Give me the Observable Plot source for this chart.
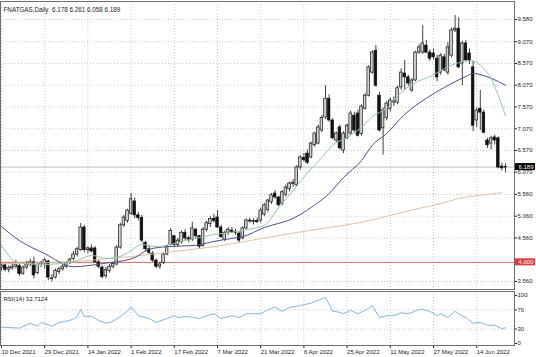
<!DOCTYPE html>
<html><head><meta charset="utf-8">
<script src="https://cdn.jsdelivr.net/npm/d3@7"></script>
<script src="https://cdn.jsdelivr.net/npm/@observablehq/plot@0.6"></script>
<style>
html,body{margin:0;padding:0;background:#fff}
#wrap{position:relative;width:536px;height:357px;overflow:hidden;background:#fff}
#wrap svg{position:absolute;left:0}
</style></head>
<body><div id="wrap"></div>
<script>
const symbol = "FNATGAS";
const period = "Daily";
const open  = [3.88,3.93,3.83,3.86,3.90,3.92,3.74,3.88,3.95,4.00,3.75,3.94,3.97,4.02,3.63,3.65,3.78,3.84,3.90,3.98,
 4.08,4.18,4.28,4.80,4.28,4.32,4.32,4.00,3.88,3.68,3.80,3.90,3.95,4.34,4.85,4.95,5.12,5.40,5.08,5.02,
 4.45,4.30,4.20,4.04,3.90,3.98,4.18,4.40,4.60,4.40,4.46,4.68,4.55,4.52,4.75,4.60,4.38,4.75,4.88,5.00,
 5.03,4.80,4.52,4.68,4.73,4.70,4.66,4.55,4.78,4.96,4.93,4.95,4.96,5.10,5.20,5.38,5.58,5.49,5.35,5.55,
 5.68,5.80,5.77,6.18,6.40,6.50,6.41,6.69,6.73,7.03,7.33,7.76,7.26,6.80,7.10,6.57,6.85,6.96,7.37,7.42,
 6.95,7.53,7.83,8.36,8.86,7.83,7.08,7.31,7.53,7.67,7.67,8.02,8.34,8.25,7.95,8.18,8.82,8.82,8.98,8.82,
 8.80,8.68,8.36,8.71,8.36,8.75,9.33,9.37,8.57,9.03,8.80,8.48,7.26,7.53,7.44,6.80,6.73,6.87,6.85,6.20,6.178];
const high  = [3.98,3.97,3.92,3.98,4.05,3.95,3.92,4.02,4.08,4.12,3.98,4.02,4.10,4.05,3.72,3.85,3.88,3.95,4.02,4.10,
 4.25,4.35,4.89,4.85,4.36,4.40,4.36,4.05,3.92,3.88,3.95,4.00,4.38,4.90,5.08,5.22,5.58,5.48,5.15,5.08,
 4.48,4.38,4.25,4.08,4.00,4.22,4.40,4.78,4.62,4.55,4.72,4.75,4.60,4.92,4.78,4.62,4.80,4.95,5.05,5.10,
 5.19,4.85,4.72,4.80,4.80,4.76,4.70,4.82,5.00,5.02,5.00,5.02,5.25,5.36,5.45,5.58,5.65,5.52,5.65,5.78,
 5.85,5.90,6.22,6.45,6.50,6.58,6.76,6.99,7.15,7.38,8.06,7.85,7.30,7.00,7.15,7.00,7.18,7.48,7.45,7.50,
 7.62,7.88,8.52,8.86,8.98,7.90,7.55,7.70,7.78,7.80,8.05,8.45,8.64,8.30,8.22,8.85,9.00,9.44,9.10,8.88,
 8.90,8.75,8.80,8.78,9.05,9.38,9.67,9.62,9.08,9.10,8.90,8.62,7.55,7.95,7.50,6.85,6.90,6.92,6.88,6.28,6.261];
const low   = [3.80,3.78,3.76,3.82,3.85,3.68,3.70,3.83,3.90,3.62,3.72,3.88,3.85,3.58,3.55,3.62,3.72,3.80,3.86,3.95,
 4.04,4.12,4.25,4.22,4.20,4.22,3.98,3.85,3.62,3.62,3.75,3.85,3.92,4.30,4.80,4.90,5.08,5.00,4.95,4.45,
 4.25,4.18,4.00,3.85,3.84,3.95,4.15,4.38,4.35,4.35,4.42,4.50,4.45,4.48,4.55,4.32,4.35,4.70,4.80,4.90,
 4.78,4.55,4.48,4.62,4.66,4.62,4.45,4.52,4.75,4.90,4.86,4.90,4.90,5.05,5.15,5.33,5.45,5.28,5.30,5.50,
 5.62,5.72,5.74,6.12,6.30,6.25,6.38,6.65,6.70,6.98,7.28,7.22,6.82,6.75,6.58,6.50,6.82,6.92,6.98,6.88,
 6.90,7.50,7.80,8.32,8.02,7.00,6.46,7.25,7.45,7.58,7.62,7.95,7.95,8.05,7.90,8.15,8.78,8.78,8.80,8.62,
 8.65,8.15,8.30,8.38,8.30,8.70,9.28,8.45,8.06,8.60,8.55,7.00,7.10,7.03,6.95,6.62,6.58,6.70,6.15,6.10,6.058];
const close = [3.93,3.83,3.87,3.90,3.95,3.73,3.88,3.95,4.00,3.70,3.94,3.97,4.05,3.65,3.62,3.80,3.84,3.90,3.98,4.06,
 4.18,4.30,4.80,4.28,4.32,4.25,4.00,3.90,3.66,3.82,3.90,3.96,4.34,4.85,5.03,5.19,5.45,5.08,5.02,4.50,
 4.30,4.22,4.04,3.90,3.95,4.18,4.36,4.72,4.40,4.50,4.68,4.55,4.52,4.78,4.60,4.36,4.75,4.90,5.00,4.95,
 4.80,4.58,4.68,4.75,4.70,4.68,4.50,4.78,4.96,4.94,4.95,4.92,5.19,5.31,5.42,5.54,5.49,5.31,5.61,5.72,
 5.81,5.83,6.18,6.41,6.35,6.29,6.73,6.96,7.10,7.32,7.76,7.26,6.85,6.96,6.62,6.96,7.14,7.42,7.03,6.91,
 7.58,7.83,8.48,8.82,8.06,7.03,7.49,7.65,7.72,7.70,8.00,8.36,8.25,8.11,8.18,8.82,8.94,9.03,8.82,8.68,
 8.71,8.25,8.75,8.41,8.94,9.33,9.37,8.48,9.03,8.64,8.62,7.14,7.49,7.44,6.98,6.69,6.85,6.80,6.18,6.16,6.189];

const dateTickIdx = [0,12,24,36,48,60,72,84,96,108,120,132];
const dateLabels = ["10 Dec 2021","29 Dec 2021","14 Jan 2022","1 Feb 2022","17 Feb 2022","7 Mar 2022",
 "21 Mar 2022","6 Apr 2022","25 Apr 2022","11 May 2022","27 May 2022","14 Jun 2022"];
const priceTicks = [9.58,9.07,8.57,8.07,7.57,7.07,6.57,6.07,5.56,5.06,4.56,3.56];
const levelPrice = 4.0;
const rsiTicks = [100,70,30,0];
const rsiGrid = [70,30];

const greenIdx = [0,2,4,11,16,21,25,29,32,36,39,43,47,51,55,59,64,68,73,77,81,85,89,92,96,100,103,107,111,115,119,123,127,130,132,134,136,138,140];
const greenVal = [4.39,4.16,4.00,3.95,3.97,4.04,4.16,4.09,4.11,4.27,4.41,4.36,4.41,4.50,4.57,4.64,4.69,4.75,4.85,5.26,5.65,6.06,6.41,6.69,6.87,7.10,7.35,7.54,7.90,8.13,8.27,8.45,8.59,8.64,8.59,8.45,8.23,7.83,7.37];
const blueIdx = [0,5,12,20,28,37,41,46,54,59,64,67,73,81,86,91,95,100,103,107,112,118,123,129,131,134,136,140];
const blueVal = [4.82,4.50,4.20,3.90,3.97,4.11,4.30,4.36,4.39,4.48,4.55,4.59,4.80,5.01,5.26,5.58,5.95,6.34,6.69,6.96,7.40,7.77,8.02,8.27,8.34,8.29,8.23,8.07];
const tanIdx = [0,21,30,39,50,59,69,80,91,100,108,116,122,127,133,139];
const tanVal = [3.97,4.02,4.09,4.16,4.27,4.36,4.50,4.66,4.80,4.92,5.08,5.24,5.35,5.47,5.54,5.60];

const rsiIdx = [0,5,8,10,11,14,16,19,21,22,23,25,27,29,31,34,35,36,38,41,43,46,48,49,51,53,55,57,59,61,64,66,68,70,72,74,76,78,80,83,86,88,90,92,94,95,97,99,102,103,105,107,109,111,113,116,117,119,121,122,124,126,128,129,131,133,135,137,139,140];
const rsiVal = [34,32,42,36,44,36,44,48,55,71,56,57,48,42,46,62,67,76,58,52,44,52,58,54,56,55,52,58,62,52,58,54,62,62,62,70,76,67,75,79,84,90,96,67,65,62,69,62,73,79,54,58,58,64,62,71,71,67,58,62,54,67,57,54,42,44,38,38,31,32.7124];

const N = close.length;
const xDomain = [-0.28, 142.5];
const candles = close.map((c, i) => ({i, o: open[i], h: high[i], l: low[i], c}));
const green = greenIdx.map((i, k) => ({i, v: greenVal[k]}));
const blue = blueIdx.map((i, k) => ({i, v: blueVal[k]}));
const tan = tanIdx.map((i, k) => ({i, v: tanVal[k]}));
const rsi = rsiIdx.map((i, k) => ({i, v: rsiVal[k]}));

const font = "'Liberation Sans', Arial, sans-serif";
const gridStyle = {stroke: "#c9c9c9", strokeDasharray: "1,2"};
const W = 536, MR = 22;

const main = Plot.plot({
  width: W, height: 290, marginLeft: 0, marginRight: MR, marginTop: 1, marginBottom: 1,
  x: {type: "linear", domain: xDomain, axis: null, label: null},
  y: {domain: [3.376, 9.994], axis: null, label: null},
  style: {fontFamily: font, fontSize: "6px", background: "transparent", overflow: "visible", color: "#222"},
  marks: [
    Plot.ruleX(dateTickIdx, gridStyle),
    Plot.ruleY(priceTicks, gridStyle),
    Plot.ruleY([levelPrice], {stroke: "#e06262", strokeWidth: 1}),
    Plot.ruleY([close[N - 1]], {stroke: "#bdbdbd", strokeWidth: 1}),
    Plot.ruleX(candles, {x: "i", y1: "l", y2: "h", stroke: "#111", strokeWidth: 0.8}),
    Plot.rect(candles, {x1: d => d.i - 0.36, x2: d => d.i + 0.36, y1: "o", y2: "c",
      fill: d => d.c >= d.o ? "#d2d2d2" : "#111", stroke: "#111", strokeWidth: 0.7}),
    Plot.line(tan, {x: "i", y: "v", stroke: "#dcc4a4", strokeWidth: 1, curve: "monotone-x"}),
    Plot.line(blue, {x: "i", y: "v", stroke: "#4d4f8f", strokeWidth: 1, curve: "monotone-x"}),
    Plot.line(green, {x: "i", y: "v", stroke: "#8fcaa4", strokeWidth: 1, curve: "monotone-x"}),
    Plot.axisY(priceTicks, {anchor: "right", label: null, tickSize: 2, tickPadding: 1, tickFormat: d => d.toFixed(3), fontSize: 6}),
    Plot.frame({stroke: "#6f6f6f"}),
    Plot.text([`${symbol},${period}  ${open[N-1].toFixed(3)} ${high[N-1].toFixed(3)} ${low[N-1].toFixed(3)} ${close[N-1].toFixed(3)}`],
      {frameAnchor: "top-left", dx: 3, dy: 6, textAnchor: "start", fill: "#222", fontSize: 6.3}),
    Plot.text([levelPrice, close[N - 1]], {y: d => d, text: d => d.toFixed(3), frameAnchor: "right",
      dx: 4, textAnchor: "start", fill: "#fff", fontSize: 6})
  ]
});
main.style.top = "0px";

// label boxes behind the last text mark (the price labels), placed with the y scale
const ysc = main.scale("y");
const textGroups = main.querySelectorAll("g[aria-label='text']");
const labelGroup = textGroups[textGroups.length - 1];
[[levelPrice, "#e63a3a"], [close[N - 1], "#000"]].forEach(([v, col]) => {
  const r = document.createElementNS("http://www.w3.org/2000/svg", "rect");
  d3.select(r).attr("x", W - MR + 1).attr("y", ysc.apply(v) - 3.5)
    .attr("width", MR - 2).attr("height", 7).attr("fill", col);
  labelGroup.parentNode.insertBefore(r, labelGroup);
});

const rsiPlot = Plot.plot({
  width: W, height: 67, marginLeft: 0, marginRight: MR, marginTop: 1, marginBottom: 12,
  x: {type: "linear", domain: xDomain, axis: null, label: null},
  y: {domain: [-4.2, 108.3], axis: null, label: null},
  style: {fontFamily: font, fontSize: "6px", background: "transparent", overflow: "visible", color: "#222"},
  marks: [
    Plot.ruleX(dateTickIdx, gridStyle),
    Plot.ruleY(rsiGrid, gridStyle),
    Plot.line(rsi, {x: "i", y: "v", stroke: "#7fb9e0", strokeWidth: 1}),
    Plot.axisY(rsiTicks, {anchor: "right", label: null, tickSize: 2, tickPadding: 1, fontSize: 6}),
    Plot.axisX(dateTickIdx, {anchor: "bottom", label: null, tickSize: 3, tickPadding: 1, textAnchor: "start", fontSize: 6,
      tickFormat: d => dateLabels[dateTickIdx.indexOf(d)]}),
    Plot.frame({stroke: "#6f6f6f"}),
    Plot.text([`RSI(14) ${rsiVal[rsiVal.length - 1]}`], {frameAnchor: "top-left", dx: 3, dy: 5,
      textAnchor: "start", fill: "#222", fontSize: 6})
  ]
});
rsiPlot.style.top = "290px";

const wrap = document.getElementById("wrap");
wrap.appendChild(main);
wrap.appendChild(rsiPlot);
</script></body></html>
